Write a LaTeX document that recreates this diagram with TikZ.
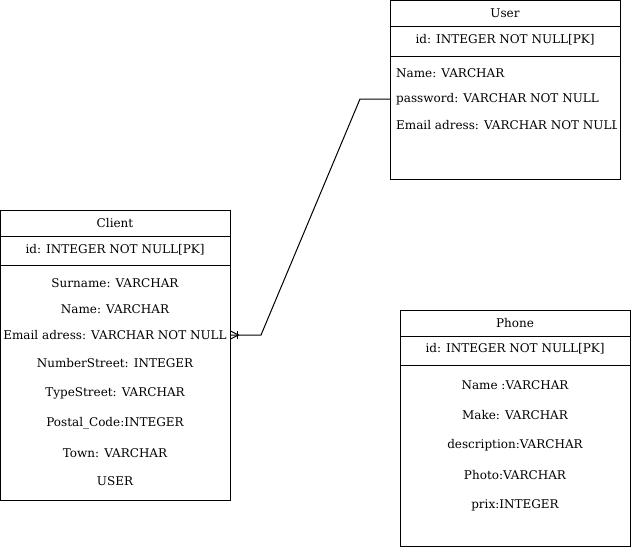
\documentclass[tikz,border=0pt]{standalone}
\usepackage{fontspec}
\setmainfont{DejaVu Serif}
\usetikzlibrary{positioning}

\tikzset{
  entity/.style={draw, line width=1pt, minimum width=230pt, anchor=north west, inner sep=0pt, outer sep=0pt},
  sep/.style={line width=1pt},
  field/.style={font=\fontsize{12}{14}\selectfont, inner sep=0pt},
  link/.style={line width=1pt}
}

\begin{document}
\begin{tikzpicture}[x=1pt, y=-1pt]
  \useasboundingbox (0,0) rectangle (631,547);

  % User table
  \node[entity, minimum height=179pt] (user) at (390,0.5) {};
  \draw[sep] (390,26.5) -- (620,26.5);
  \draw[sep] (390,56.5) -- (620,56.5);
  \node[field] (userTitle) at (505,13) {User};
  \node[field] (userId) at (505,40) {id: INTEGER NOT NULL[PK]};
  \begin{scope}
    \clip (391,57) rectangle (616,179);
    \node[field, anchor=west] (userName) at (396,73) {Name: VARCHAR};
    \node[field, anchor=west] (userPassword) at (396,99) {password: VARCHAR NOT NULL};
    \node[field, anchor=west] (userEmail) at (396,125) {Email adress: VARCHAR NOT NULL};
  \end{scope}

  % Client table
  \node[entity, minimum height=290pt] (client) at (0.5,210) {};
  \draw[sep] (0.5,236.5) -- (230.5,236.5);
  \draw[sep] (0.5,265.5) -- (230.5,265.5);
  \node[field] (clientTitle) at (115,223) {Client};
  \node[field] (clientId) at (115,250) {id: INTEGER NOT NULL[PK]};
  \node[field] (clientSurname) at (115,283) {Surname: VARCHAR};
  \node[field] (clientName) at (115,309) {Name: VARCHAR};
  \node[field] (clientEmail) at (115,335) {Email adress: VARCHAR NOT NULL};
  \node[field] (clientNumber) at (115,363) {NumberStreet: INTEGER};
  \node[field] (clientType) at (115,393) {TypeStreet: VARCHAR};
  \node[field] (clientPostal) at (115,423) {Postal\_Code:INTEGER};
  \node[field] (clientTown) at (115,453) {Town: VARCHAR};
  \node[field] (clientUser) at (115,481) {USER};

  % Phone table
  \node[entity, minimum height=236pt] (phone) at (400,310) {};
  \draw[sep] (400,336.5) -- (630,336.5);
  \draw[sep] (400,365.5) -- (630,365.5);
  \node[field] (phoneTitle) at (515,323) {Phone};
  \node[field] (phoneId) at (515,349) {id: INTEGER NOT NULL[PK]};
  \node[field] (phoneName) at (515,385) {Name :VARCHAR};
  \node[field] (phoneMake) at (515,415) {Make: VARCHAR};
  \node[field] (phoneDesc) at (515,445) {description:VARCHAR};
  \node[field] (phonePhoto) at (515,475) {Photo:VARCHAR};
  \node[field] (phonePrix) at (515,505) {prix:INTEGER};

  % Relation Client -- User
  \coordinate (cf) at (client.east |- clientEmail);
  \coordinate (bend1) at (261,335);
  \coordinate (bend2) at (360,99);
  \draw[link] (cf) -- (bend1) -- (bend2) -- (user.west |- userPassword);
  \draw[link] ([yshift=4pt]cf) -- ([xshift=8pt]cf) -- ([yshift=-4pt]cf);
  \draw[link] ([xshift=7pt, yshift=4pt]cf) -- ([xshift=7pt, yshift=-4pt]cf);
\end{tikzpicture}
\end{document}
